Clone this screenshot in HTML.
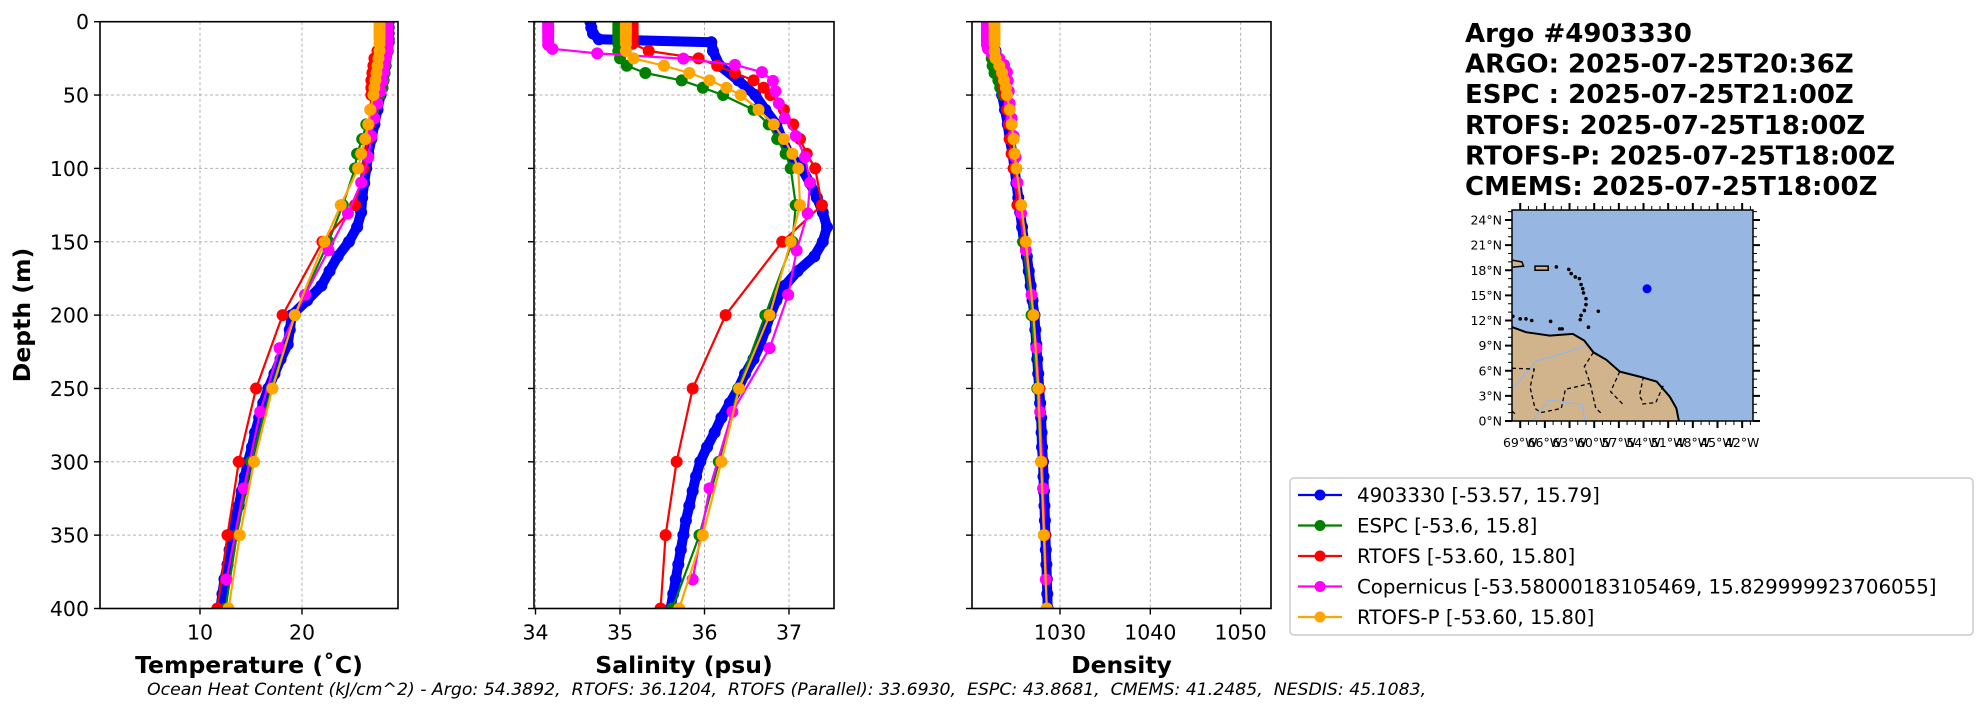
<!DOCTYPE html>
<html><head><meta charset="utf-8"><style>
html,body{margin:0;padding:0;background:#fff;}
svg{display:block;font-family:"DejaVu Sans","Liberation Sans",sans-serif;}
</style></head><body>
<svg id="fig" width="1987" height="712" viewBox="0 0 1987 712" xmlns="http://www.w3.org/2000/svg">
<g id="panels"></g>
<g id="titleblock" font-weight="bold" font-size="26" fill="#000">
<text x="1465" y="42">Argo #4903330</text>
<text x="1465" y="72.6">ARGO: 2025-07-25T20:36Z</text>
<text x="1465" y="103.2">ESPC : 2025-07-25T21:00Z</text>
<text x="1465" y="133.8">RTOFS: 2025-07-25T18:00Z</text>
<text x="1465" y="164.4">RTOFS-P: 2025-07-25T18:00Z</text>
<text x="1465" y="195">CMEMS: 2025-07-25T18:00Z</text>
</g>
<g id="map"></g>
<g id="legend"></g>
<text x="147" y="695" font-size="17.3" font-style="italic" style="white-space:pre">Ocean Heat Content (kJ/cm^2) - Argo: 54.3892,  RTOFS: 36.1204,  RTOFS (Parallel): 33.6930,  ESPC: 43.8681,  CMEMS: 41.2485,  NESDIS: 45.1083,</text>
</svg>
<script>
// ---- data ----
const argoDepth = [0,4,8,12,14,20,30,40,50,60,70,80,90,100,110,120,130,140,150,160,170,180,190,200,210,220,230,240,250,260,270,280,290,300,310,320,330,340,350,360,370,380,390,400];
const argoTemp = [28.5,28.5,28.5,28.5,28.5,28.4,28.2,28.0,27.7,27.4,27.1,26.8,26.5,26.3,26.1,25.9,25.8,25.4,24.6,23.5,22.7,21.9,20.5,19.0,18.8,18.6,17.9,17.3,16.7,16.2,15.8,15.4,15.1,14.7,14.4,14.1,13.8,13.4,13.1,12.9,12.7,12.4,12.2,12.0];
const argoSal = [34.65,34.66,34.68,34.75,36.08,36.1,36.18,36.4,36.6,36.72,36.85,36.92,37.0,37.15,37.25,37.33,37.4,37.45,37.4,37.3,37.1,36.95,36.85,36.78,36.72,36.66,36.58,36.48,36.4,36.3,36.2,36.12,36.03,35.95,35.9,35.86,35.82,35.78,35.75,35.72,35.69,35.66,35.63,35.6];
const argoDens = [1021.91,1021.91,1021.91,1021.91,1022.65,1022.86,1023.07,1023.28,1023.59,1023.91,1024.22,1024.43,1024.75,1024.96,1025.17,1025.38,1025.59,1025.80,1026.01,1026.33,1026.54,1026.75,1026.96,1027.17,1027.27,1027.38,1027.48,1027.59,1027.70,1027.80,1027.91,1027.96,1028.01,1028.12,1028.17,1028.22,1028.28,1028.33,1028.38,1028.43,1028.49,1028.54,1028.59,1028.64];

const modelDepth = [0,2,4,6,8,10,12,15,20,25,30,35,40,45,50,60,70,80,90,100,125,150,200,250,300,350,400];
const espcTemp = [28.3,28.3,28.3,28.3,28.3,28.3,28.3,28.3,28.3,28.2,28.2,28.1,28.0,27.9,27.6,27.0,26.3,25.9,25.4,25.2,24.0,22.6,19.3,17.0,15.0,13.6,12.5];
const espcSal = [34.98,34.98,34.98,34.98,34.98,34.98,34.98,34.98,34.98,35.0,35.08,35.3,35.73,35.98,36.22,36.58,36.76,36.86,36.96,37.02,37.08,37.04,36.72,36.4,36.17,35.94,35.62];
const espcDens = [1022.44,1022.44,1022.44,1022.44,1022.44,1022.44,1022.44,1022.44,1022.44,1022.44,1022.54,1022.75,1023.17,1023.38,1023.70,1024.22,1024.54,1024.75,1024.96,1025.07,1025.49,1025.91,1026.85,1027.48,1027.91,1028.22,1028.54];
const rtofsTemp = [28.2,28.2,28.2,28.2,28.1,28.1,28.0,27.8,27.4,27.1,27.0,26.9,26.8,26.8,26.8,26.7,26.6,26.5,26.2,26.0,25.2,22.0,18.1,15.5,13.8,12.7,11.7];
const rtofsSal = [35.15,35.15,35.15,35.15,35.15,35.15,35.15,35.15,35.34,35.93,36.15,36.36,36.58,36.7,36.78,36.94,37.05,37.13,37.21,37.31,37.39,36.92,36.25,35.86,35.67,35.54,35.48];
const rtofsDens = [1022.23,1022.23,1022.23,1022.23,1022.23,1022.23,1022.23,1022.23,1022.54,1023.07,1023.28,1023.49,1023.70,1023.80,1023.91,1024.12,1024.33,1024.43,1024.64,1024.86,1025.28,1026.12,1027.06,1027.70,1028.01,1028.33,1028.54];
const rtofspTemp = [27.6,27.6,27.6,27.6,27.6,27.6,27.6,27.6,27.6,27.5,27.4,27.3,27.2,27.1,27.0,26.7,26.5,26.2,25.8,25.5,23.8,22.2,19.3,17.1,15.3,13.9,12.8];
const rtofspSal = [35.07,35.07,35.07,35.07,35.07,35.07,35.07,35.07,35.07,35.16,35.52,35.82,36.06,36.26,36.43,36.64,36.82,36.94,37.04,37.11,37.13,37.02,36.77,36.41,36.2,35.98,35.7];
const rtofspDens = [1022.75,1022.75,1022.75,1022.75,1022.75,1022.75,1022.75,1022.75,1022.75,1022.86,1023.28,1023.59,1023.80,1024.01,1024.12,1024.43,1024.64,1024.86,1024.96,1025.17,1025.70,1026.22,1027.06,1027.59,1027.91,1028.22,1028.54];

const cmemsDepth = [0.5,1.5,2.6,3.8,5,6.4,7.9,9.8,11.4,13.5,15.8,18.5,21.6,25.2,29.4,34.4,40.3,47.4,55.8,65.8,77.9,92.3,109.7,130.7,155.9,186.1,222.5,266.0,318.1,380.2];
const cmemsTemp = [28.4,28.4,28.4,28.4,28.4,28.4,28.4,28.4,28.4,28.4,28.4,28.4,28.3,28.2,28.1,28.0,27.9,27.7,27.4,27.1,26.8,26.5,25.8,24.5,22.6,20.3,17.8,15.9,14.3,12.6];
const cmemsSal = [34.15,34.15,34.15,34.15,34.15,34.15,34.15,34.15,34.15,34.15,34.15,34.2,34.73,35.75,36.36,36.68,36.81,36.84,36.88,36.95,37.08,37.19,37.25,37.22,37.09,36.99,36.77,36.33,36.06,35.86];
const cmemsDens = [1021.91,1021.91,1021.91,1021.91,1021.91,1021.91,1021.91,1021.91,1021.91,1021.91,1021.91,1022.02,1022.44,1023.28,1023.80,1024.12,1024.22,1024.33,1024.43,1024.64,1024.86,1025.07,1025.28,1025.70,1026.22,1026.85,1027.38,1027.80,1028.12,1028.43];

const depthTicks = [0,50,100,150,200,250,300,350,400];
const tempTicks = [10,20];
const salTicks = [34,35,36,37];
const densTicks = [1030,1040,1050];
const legendLabels = ["4903330 [-53.57, 15.79]","ESPC [-53.6, 15.8]","RTOFS [-53.60, 15.80]","Copernicus [-53.58000183105469, 15.829999923706055]","RTOFS-P [-53.60, 15.80]"];
const floatLon = [-53.57];
const floatLat = [15.79];
const latTicks = [0,3,6,9,12,15,18,21,24];
const lonTicks = [-69,-66,-63,-60,-57,-54,-51,-48,-45,-42];

// ---- helpers ----
const NS = "http://www.w3.org/2000/svg";
function mk(tag, attrs, parent){
  const e = document.createElementNS(NS, tag);
  for (const k in attrs) e.setAttribute(k, attrs[k]);
  if (parent) parent.appendChild(e);
  return e;
}
const Y0 = 21.7, YS = 1.467, YB = 608.5;
const yScale = d => Y0 + d * YS;
const panels = document.getElementById('panels');

const P = [
  {name:'temperature', x0:100, x1:398, sx:v=>200+(v-10)*10.2, ticks:tempTicks, title:'Temperature (˚C)', ylabels:true},
  {name:'salinity', x0:534, x1:834, sx:v=>620+(v-35)*84.5, ticks:salTicks, title:'Salinity (psu)', ylabels:false},
  {name:'density', x0:972, x1:1271, sx:v=>1060+(v-1030)*9.03, ticks:densTicks, title:'Density', ylabels:false}
];

const series = [
  {key:'argo', color:'#0000ff', depth:argoDepth, vals:[argoTemp,argoSal,argoDens], r:6, lw:2.5, thick:true},
  {key:'espc', color:'#008000', depth:modelDepth, vals:[espcTemp,espcSal,espcDens], r:6, lw:2.2},
  {key:'rtofs', color:'#ff0000', depth:modelDepth, vals:[rtofsTemp,rtofsSal,rtofsDens], r:6, lw:2.2},
  {key:'copernicus', color:'#ff00ff', depth:cmemsDepth, vals:[cmemsTemp,cmemsSal,cmemsDens], r:6, lw:2.2},
  {key:'rtofs-p', color:'#ffa500', depth:modelDepth, vals:[rtofspTemp,rtofspSal,rtofspDens], r:6, lw:2.2}
];

P.forEach((p, pi) => {
  const g = mk('g', {}, panels);
  
  
  const clipId = 'clip' + pi;
  const cp = mk('clipPath', {id: clipId}, g);
  mk('rect', {x:p.x0, y:Y0, width:p.x1-p.x0, height:YB-Y0}, cp);
  depthTicks.forEach(d => {
    const l = mk('line', {x1:p.x0, x2:p.x1, y1:yScale(d), y2:yScale(d), stroke:'#b0b0b0', 'stroke-width':1, 'stroke-dasharray':'3,2.5'}, g);
    
    
  });
  p.ticks.forEach(t => {
    const l = mk('line', {x1:p.sx(t), x2:p.sx(t), y1:Y0, y2:YB, stroke:'#b0b0b0', 'stroke-width':1, 'stroke-dasharray':'3,2.5'}, g);
    
    
  });
  const sg = mk('g', {'clip-path':'url(#'+clipId+')'}, g);
  series.forEach(s => {
    const vals = s.vals[pi];
    const pts = s.depth.map((d,i) => p.sx(vals[i]).toFixed(1)+','+yScale(d).toFixed(1)).join(' ');
    const sgr = mk('g', {}, sg);
    
    
    if (s.thick) mk('polyline', {points:pts, fill:'none', stroke:s.color, 'stroke-width':10, 'stroke-linejoin':'round', 'stroke-linecap':'round'}, sgr);
    mk('polyline', {points:pts, fill:'none', stroke:s.color, 'stroke-width':s.lw, 'stroke-linejoin':'round'}, sgr);
    s.depth.forEach((d,i) => {
      const c = mk('circle', {cx:p.sx(vals[i]), cy:yScale(d), r:s.r, fill:s.color}, sgr);
      
      
    });
  });
  const fr = mk('rect', {x:p.x0, y:Y0, width:p.x1-p.x0, height:YB-Y0, fill:'none', stroke:'#000', 'stroke-width':1.6}, g);
  
  
  depthTicks.forEach(d => {
    mk('line', {x1:p.x0-6, x2:p.x0, y1:yScale(d), y2:yScale(d), stroke:'#000', 'stroke-width':1.4}, g);
    if (p.ylabels) {
      const t = mk('text', {x:p.x0-11, y:yScale(d)+7.5, 'text-anchor':'end', 'font-size':20.5}, g);
      t.textContent = d;
      
      
    }
  });
  p.ticks.forEach(v => {
    mk('line', {x1:p.sx(v), x2:p.sx(v), y1:YB, y2:YB+6, stroke:'#000', 'stroke-width':1.4}, g);
    const t = mk('text', {x:p.sx(v), y:YB+31, 'text-anchor':'middle', 'font-size':20.5}, g);
    t.textContent = v;
    
    
  });
  const xt = mk('text', {x:(p.x0+p.x1)/2, y:673, 'text-anchor':'middle', 'font-size':23.5, 'font-weight':'bold'}, g);
  xt.textContent = p.title;
  
  
});
const yt = mk('text', {x:0, y:0, 'text-anchor':'middle', 'font-size':23.5, 'font-weight':'bold', transform:'translate(30,315) rotate(-90)'}, panels);
yt.textContent = 'Depth (m)';



// ---- legend ----
const lg = document.getElementById('legend');
mk('rect', {x:1290, y:478, width:683, height:157, rx:4, fill:'#fff', stroke:'#cccccc', 'stroke-width':1.5}, lg);
series.forEach((s,i) => {
  const y = 495 + i*30.5;
  const e = mk('g', {}, lg);
  
  
  mk('line', {x1:1298, x2:1342, y1:y, y2:y, stroke:s.color, 'stroke-width':2.2}, e);
  mk('circle', {cx:1320, cy:y, r:5.5, fill:s.color}, e);
  const t = mk('text', {x:1357, y:y+7, 'font-size':19.8}, e);
  t.textContent = legendLabels[i];
});

// ---- map ----
const mg = document.getElementById('map');
const mx = lon => 1512 + (lon + 70) * 8.22;
const my = lat => 421 - lat * 8.375;
const mcp = mk('clipPath', {id:'mapclip'}, mg);
mk('rect', {x:1512, y:210, width:241, height:211}, mcp);
const inner = mk('g', {'clip-path':'url(#mapclip)'}, mg);
mk('rect', {x:1512, y:210, width:241, height:211, fill:'#97b6e1'}, inner);
const poly = (arr, attrs) => mk('polygon', Object.assign({points: arr.map(p=>mx(p[0]).toFixed(1)+','+my(p[1]).toFixed(1)).join(' ')}, attrs), inner);
const line = (arr, attrs) => mk('polyline', Object.assign({points: arr.map(p=>mx(p[0]).toFixed(1)+','+my(p[1]).toFixed(1)).join(' '), fill:'none'}, attrs), inner);
const land = poly([[-70.5,11.4],[-68.3,10.6],[-65.4,10.2],[-62.6,10.4],[-61.2,9.6],[-60.1,8.2],[-58.5,7.3],[-56.9,5.9],[-54.5,5.3],[-52.4,4.7],[-50.8,2.9],[-50,1.5],[-49.6,-0.5],[-70.5,-0.5]], {fill:'#d2b48c', stroke:'#000', 'stroke-width':2});


poly([[-70.5,19.3],[-68.8,19.0],[-68.6,18.5],[-70.5,18.3]], {fill:'#d2b48c', stroke:'#000', 'stroke-width':1.5});
poly([[-67.2,18.5],[-65.6,18.5],[-65.6,18.0],[-67.2,18.0]], {fill:'#d2b48c', stroke:'#000', 'stroke-width':1.5});
[[-64.6,18.4],[-63.1,18.1],[-62.8,17.6],[-62.3,17.2],[-61.8,17.0],[-61.6,16.3],[-61.4,15.8],[-61.3,15.3],[-61.0,14.6],[-61.0,13.9],[-61.2,13.2],[-61.6,12.6],[-61.7,12.1],[-59.5,13.1],[-60.7,11.2],[-69.9,12.5],[-69.0,12.2],[-68.3,12.2],[-67.6,12.0],[-65.3,11.9],[-63.9,11.0],[-64.2,11.0]].forEach(p => mk('circle', {cx:mx(p[0]), cy:my(p[1]), r:1.8, fill:'#000'}, inner));
line([[-61,9],[-64,8],[-67,7.2],[-70,3.8]], {stroke:'#97b6e1', 'stroke-width':1.3});
line([[-67.5,0],[-65.5,2.5],[-63.5,2.2],[-61.5,2],[-61,-0.5]], {stroke:'#97b6e1', 'stroke-width':1.3});
const dash = {stroke:'#000', 'stroke-width':1.3, 'stroke-dasharray':'4,3'};
line([[-60.1,8.2],[-61.2,6.5],[-60.5,4.5],[-59.8,1.5],[-59,0.8]], dash);
line([[-56.9,5.9],[-58,3.5],[-56.5,2]], dash);
line([[-54,5.3],[-54.5,3],[-54,2.2]], dash);
line([[-51.6,4.2],[-52.5,2.2],[-54.5,2]], dash);
line([[-70,6.3],[-67.3,6.2],[-67.8,4],[-67.2,1.5],[-66.5,1],[-64,1.5],[-63.5,3.8],[-62.5,4],[-60.5,4.5]], dash);
line([[-70,1.2],[-69.5,0.7]], dash);
const dot = mk('circle', {cx:mx(floatLon[0]), cy:my(floatLat[0]), r:4.5, fill:'#0000ff'}, inner);


mk('rect', {x:1512, y:210, width:241, height:211, fill:'none', stroke:'#000', 'stroke-width':1.5}, mg);
latTicks.forEach(l => {
  const y = my(l);
  mk('line', {x1:1505, x2:1512, y1:y, y2:y, stroke:'#000', 'stroke-width':2}, mg);
  mk('line', {x1:1753, x2:1760, y1:y, y2:y, stroke:'#000', 'stroke-width':2}, mg);
  const t = mk('text', {x:1502, y:y+4.5, 'text-anchor':'end', 'font-size':12.5}, mg);
  t.textContent = l + '°N';
  
  
  [1,2].forEach(k => { const yy = my(l + k); if (yy > 210) { mk('line', {x1:1508, x2:1512, y1:yy, y2:yy, stroke:'#000', 'stroke-width':1}, mg); mk('line', {x1:1753, x2:1757, y1:yy, y2:yy, stroke:'#000', 'stroke-width':1}, mg); } });
});
lonTicks.forEach(l => {
  const x = mx(l);
  mk('line', {x1:x, x2:x, y1:421, y2:428, stroke:'#000', 'stroke-width':2}, mg);
  mk('line', {x1:x, x2:x, y1:203, y2:210, stroke:'#000', 'stroke-width':2}, mg);
  const t = mk('text', {x:x, y:447, 'text-anchor':'middle', 'font-size':12.5}, mg);
  t.textContent = Math.abs(l) + '°W';
  
  
  [1,2].forEach(k => { const xx = mx(l + k); if (xx < 1753) { mk('line', {x1:xx, x2:xx, y1:421, y2:425, stroke:'#000', 'stroke-width':1}, mg); mk('line', {x1:xx, x2:xx, y1:206, y2:210, stroke:'#000', 'stroke-width':1}, mg); } });
});
</script>
</body></html>
